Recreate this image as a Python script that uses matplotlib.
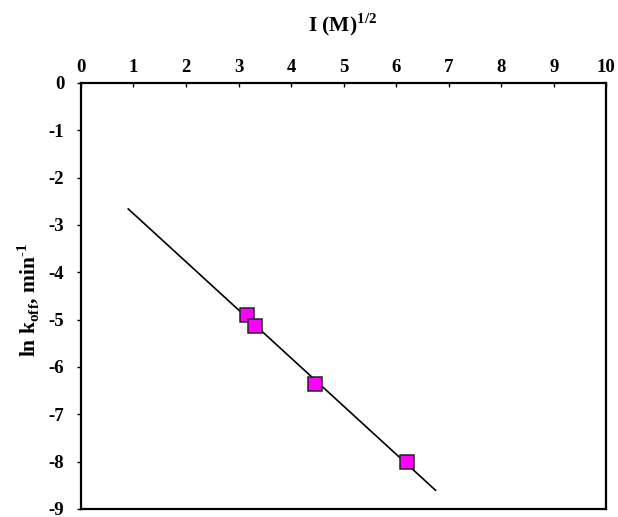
import numpy as np
import matplotlib
matplotlib.use("Agg")
import matplotlib.pyplot as plt

# data
ionic_sqrt = [3.16, 3.32, 4.46, 6.20]
ln_koff = [-4.90, -5.13, -6.36, -8.01]
x_ticks = list(range(0, 11))
y_ticks = list(range(0, -10, -1))

plt.rcParams["font.family"] = ["Liberation Serif", "DejaVu Serif"]
plt.rcParams["font.weight"] = "bold"
plt.rcParams["mathtext.fontset"] = "custom"
plt.rcParams["mathtext.rm"] = "Liberation Serif:bold"
plt.rcParams["mathtext.bf"] = "Liberation Serif:bold"

fig = plt.figure(figsize=(6.18, 5.17), dpi=100)
ax = fig.add_axes([0.131, 0.0155, 0.850, 0.824])

# linear fit line
fit = np.polyfit(ionic_sqrt, ln_koff, 1)
xs = np.array([0.9, 6.75])
ax.plot(xs, np.polyval(fit, xs), color="black", lw=1.2, zorder=2)

ax.plot(ionic_sqrt, ln_koff, ls="none", marker="s", markersize=9.5,
        markerfacecolor="#ff00ff", markeredgecolor="#222222",
        markeredgewidth=1.1, zorder=3)

ax.set_xlim(0, 10)
ax.set_ylim(-9, 0)
ax.set_xticks(x_ticks)
ax.set_yticks(y_ticks)
ax.set_yticklabels([str(v) for v in y_ticks])

ax.xaxis.tick_top()
ax.xaxis.set_label_position("top")
ax.tick_params(axis="x", direction="in", length=3, width=1, pad=5, labelsize=13.5)
ax.tick_params(axis="y", direction="out", length=3, width=1, pad=9, labelsize=13.5)
for lab in ax.get_xticklabels() + ax.get_yticklabels():
    lab.set_fontweight("bold")

for sp in ax.spines.values():
    sp.set_linewidth(1.6)

fig.text(0.555, 0.952, r"I (M)$^{1/2}$", fontsize=15.5, fontweight="bold",
         ha="center", va="center")
fig.text(0.045, 0.42, r"ln k$_{\mathrm{off}}$, min$^{\text{-1}}$", rotation=90,
         fontsize=15.5, fontweight="bold", ha="center", va="center")

fig.savefig("out.png", dpi=100)
